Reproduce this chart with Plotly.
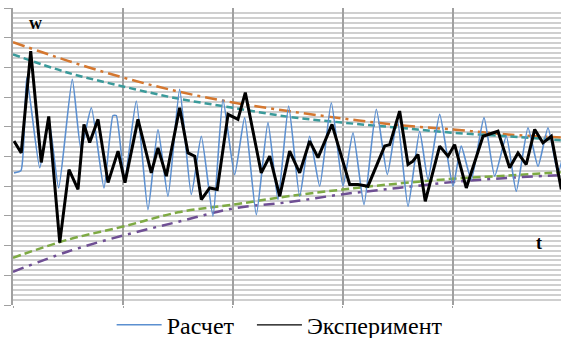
import plotly.graph_objects as go

# --- data (t: 0..5 grid units, w: -5..5) ---
calc_t = [0.009, 0.073, 0.125, 0.243, 0.325, 0.415, 0.539, 0.618, 0.712, 0.827,
          0.909, 0.939, 1.015, 1.121, 1.227, 1.318, 1.409, 1.515, 1.621, 1.712,
          1.818, 1.909, 2.015, 2.106, 2.212, 2.318, 2.409, 2.506, 2.606, 2.697,
          2.788, 2.894, 3.0, 3.091, 3.191, 3.303, 3.403, 3.494, 3.591, 3.697,
          3.773, 3.879, 4.0, 4.075, 4.166, 4.282, 4.379, 4.485, 4.575, 4.682,
          4.773, 4.864, 4.955, 5.03]
calc_w = [-0.55, -0.47, 2.66, -0.38, 1.25, -1.06, 2.60, 0.24, 1.64, -1.06,
          1.38, 1.38, -0.78, 1.87, -1.79, 0.91, -1.34, 2.26, -1.28, 0.68,
          -2.01, 1.92, -0.61, 1.31, -1.96, 1.14, -1.45, 1.70, -1.34, 0.68,
          -1.0, 1.81, -1.0, 0.80, -1.62, 1.59, -0.61, 1.25, -1.68, 0.85,
          -0.78, 1.42, -1.0, 0.35, -0.78, 1.31, -0.66, 0.68, -1.17, 0.97,
          -0.33, 0.97, -0.55, 0.57]

exp_t = [0.009, 0.075, 0.161, 0.257, 0.325, 0.425, 0.509, 0.591, 0.645, 0.697,
         0.773, 0.864, 0.955, 1.018, 1.136, 1.257, 1.318, 1.394, 1.515, 1.591,
         1.652, 1.712, 1.788, 1.857, 1.955, 2.045, 2.112, 2.257, 2.334, 2.425,
         2.515, 2.606, 2.697, 2.773, 2.9, 3.061, 3.136, 3.227, 3.379, 3.425,
         3.515, 3.591, 3.636, 3.682, 3.748, 3.879, 3.955, 4.015, 4.121, 4.273,
         4.409, 4.515, 4.591, 4.666, 4.743, 4.818, 4.894, 4.985]
exp_w = [0.52, 0.12, 3.55, -0.20, 1.35, -2.90, -0.44, -1.11, 1.08, 0.47,
         1.25, -0.88, 0.18, -0.88, 1.25, -0.55, 0.29, -0.66, 1.64, 0.12,
         0.01, -1.45, -1.06, -1.11, 1.42, 1.25, 2.15, -0.55, 0.01, -1.34,
         0.18, -0.55, 0.52, -0.04, 1.08, -0.94, -0.94, -1.0, 0.35, 0.40,
         1.53, -0.27, -0.16, 0.07, -1.51, 0.35, 0.01, 0.40, -1.06, 0.68,
         0.85, -0.38, 0.12, -0.27, 0.91, 0.46, 0.68, -1.11]

env_t = [0.0, 0.5, 1.0, 1.5, 2.0, 2.5, 3.0, 3.5, 4.0, 4.5, 4.98]
env_exp_upper = [3.85, 3.22, 2.66, 2.19, 1.82, 1.53, 1.28, 1.06, 0.91, 0.74, 0.64]
env_exp_lower = [-3.88, -3.20, -2.66, -2.20, -1.75, -1.54, -1.27, -1.06, -0.86, -0.72, -0.63]
env_calc_upper = [3.44, 2.82, 2.36, 1.95, 1.64, 1.34, 1.14, 0.97, 0.80, 0.68, 0.55]
env_calc_lower = [-3.41, -2.80, -2.36, -1.88, -1.62, -1.34, -1.11, -0.91, -0.75, -0.64, -0.53]

BLUE = "#5B8FD0"
ORANGE = "#D4772F"
TEAL = "#3A9A9A"
GREEN = "#7EAA44"
PURPLE = "#6F4F94"
GRID = "#CFCFCF"
VGRID = "#A0A0A0"

fig = go.Figure()


def envelope(y, color, dash):
    fig.add_trace(go.Scatter(
        x=env_t, y=y, mode="lines", showlegend=False, hoverinfo="skip",
        line=dict(color=color, width=2.5, dash=dash, shape="spline"),
    ))


envelope(env_exp_upper, ORANGE, "12px,5px,3px,5px")
envelope(env_calc_upper, TEAL, "7px,4px")
envelope(env_calc_lower, GREEN, "8px,4px")
envelope(env_exp_lower, PURPLE, "11px,6px,3px,6px")

fig.add_trace(go.Scatter(
    x=calc_t, y=calc_w, mode="lines", name="Расчет", legendgroup="calc",
    line=dict(color=BLUE, width=1.6, shape="spline", smoothing=0.5),
))
fig.add_trace(go.Scatter(
    x=exp_t, y=exp_w, mode="lines", name="Эксперимент", legendgroup="exp",
    showlegend=False, line=dict(color="black", width=3),
))
# legend sample for the experiment drawn thin, like the original
fig.add_trace(go.Scatter(
    x=[None], y=[None], mode="lines", name="Эксперимент", legendgroup="exp",
    legend="legend2", line=dict(color="black", width=1.3),
))

label_font = dict(family="Liberation Serif", size=18, color="black")
fig.add_annotation(x=0.2, y=4.5, text="<b>w</b>", showarrow=False, font=label_font)
fig.add_annotation(x=4.78, y=-2.92, text="<b>t</b>", showarrow=False, font=label_font)

legend_style = dict(
    orientation="h", xanchor="left", y=-0.068, yanchor="middle",
    font=dict(family="Liberation Serif", size=24, color="black"),
    bgcolor="rgba(0,0,0,0)", itemwidth=45,
)
fig.update_layout(
    width=561, height=338,
    margin=dict(l=13, r=0, t=8, b=33, autoexpand=False),
    plot_bgcolor="white", paper_bgcolor="white",
    legend=dict(x=0.18, **legend_style),
    legend2=dict(x=0.436, **legend_style),
)
fig.update_xaxes(
    range=[0, 4.982], dtick=1, tick0=0, showticklabels=False, automargin=False,
    showgrid=True, gridcolor=VGRID, gridwidth=1.5, zeroline=False,
    ticks="outside", ticklen=2, tickcolor=VGRID,
)
fig.update_yaxes(
    range=[-5, 5], dtick=1, tick0=0, showticklabels=False, automargin=False,
    showgrid=True, gridcolor=GRID, gridwidth=1.5, zeroline=False,
    showline=True, linecolor=VGRID, linewidth=1.5,
    ticks="outside", ticklen=7, tickcolor=VGRID,
    minor=dict(dtick=1 / 6, showgrid=True, gridcolor=GRID, gridwidth=1.5),
)

# the page's default body margin would shift the 561x338 figure
fig.write_html("out.html", config={"displayModeBar": False},
               post_script="document.body.style.margin='0';")
